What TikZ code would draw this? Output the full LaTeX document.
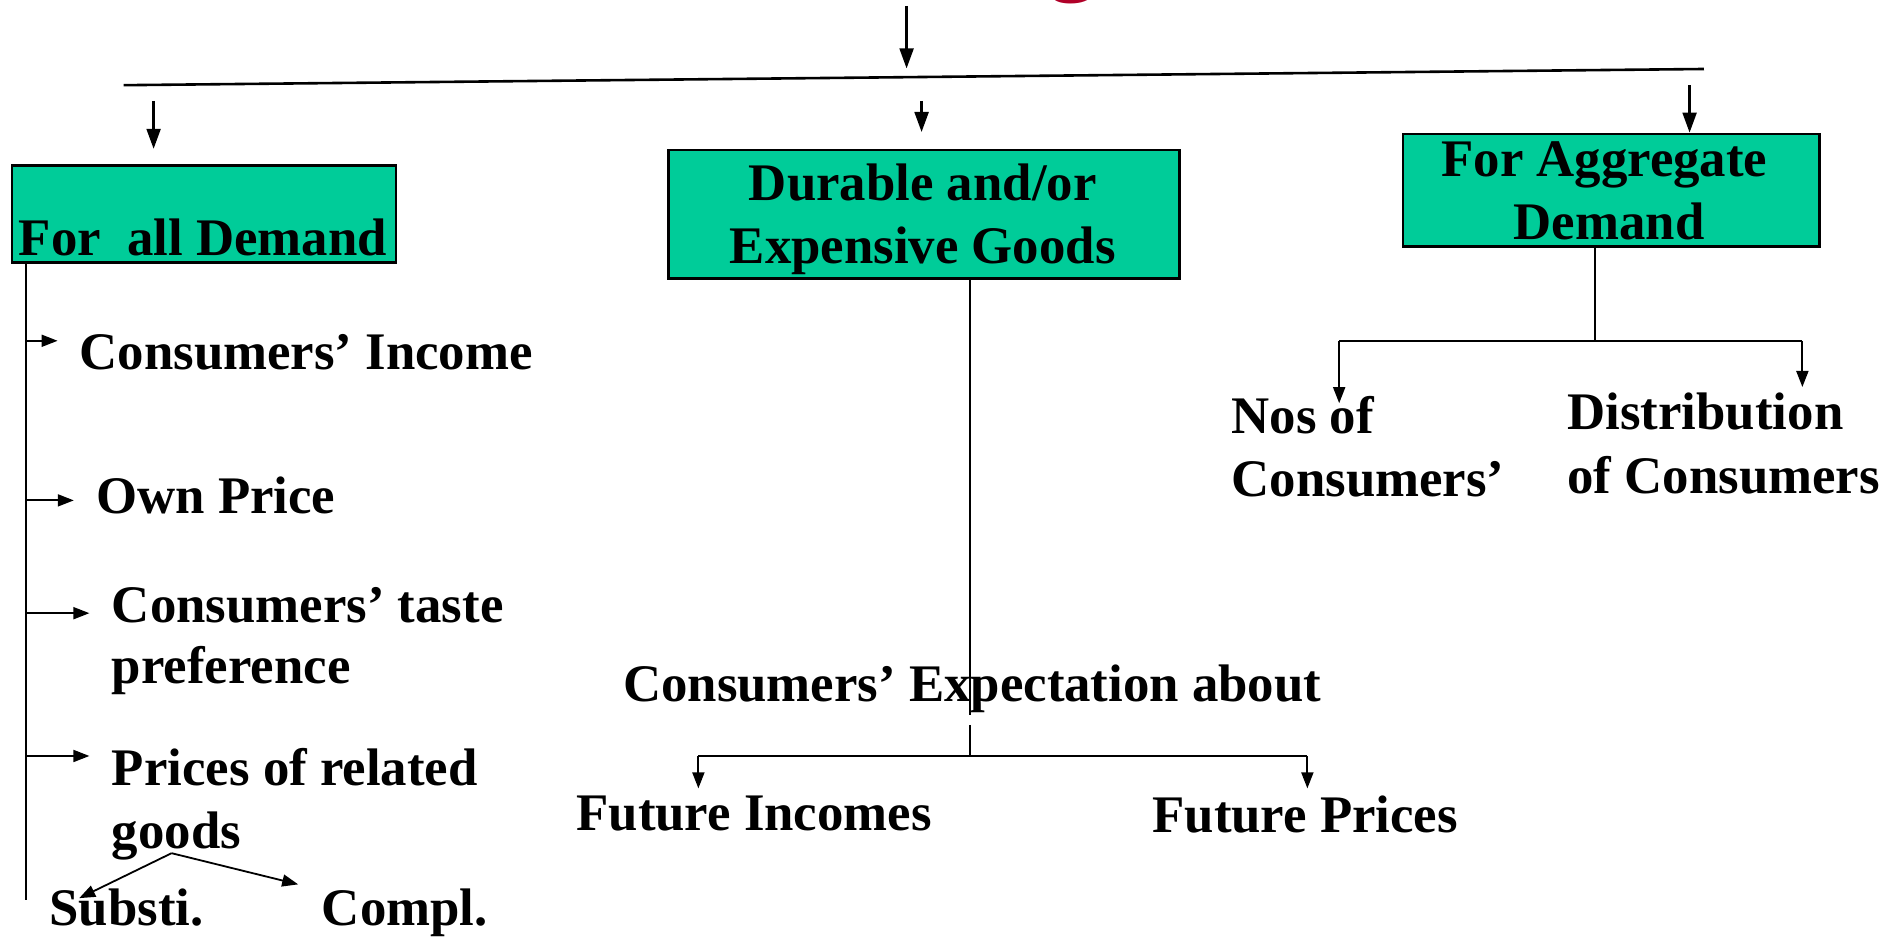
\documentclass[tikz,border=0pt]{standalone}
\usepackage{fontspec}
\setmainfont{Liberation Serif}
\usetikzlibrary{arrows.meta}
\definecolor{boxgreen}{RGB}{0,204,153}
\definecolor{titlered}{RGB}{176,0,40}
\begin{document}
\begin{tikzpicture}[x=0.6pt,y=-0.6pt,
  lbl/.style={font=\fontsize{26.4}{31.2}\selectfont\bfseries, inner sep=0pt, anchor=base west},
  ctr/.style={font=\fontsize{26.4}{31.2}\selectfont\bfseries, inner sep=0pt, anchor=base},
  greenbox/.style={draw=black, line width=1.3pt, fill=boxgreen, inner sep=0pt, anchor=north west},
  conn/.style={draw=black, line width=0.9pt},
  toparrow/.style={conn, line width=1.1pt, -{Triangle[length=10pt,width=7pt]}},
  sidearrow/.style={conn, -{Triangle[length=8pt,width=6pt]}},
]
\useasboundingbox (0,0) rectangle (1569.2,780.8);
\clip (0,0) rectangle (1569.2,780.8);
\fill[white] (0,0) rectangle (1569.2,780.8);

% title fragment
\node[font=\fontsize{52}{60}\selectfont, text=titlered, inner sep=0pt, anchor=base west] (title) at (872,-15.5) {g};

% boxes
\node[greenbox, minimum width=192pt, minimum height=48.3pt] (box1) at (9,137) {};
\node[greenbox, minimum width=255.6pt, minimum height=64.2pt] (box2) at (556,124) {};
\node[greenbox, minimum width=208.2pt, minimum height=56.4pt] (box3) at (1168,110.5) {};
\node[ctr] (b1t) at (169,213) {For\ \ all Demand};
\node[ctr] (b2a) at (769,167) {Durable and/or};
\node[ctr] (b2b) at (769,220) {Expensive Goods};
\node[ctr] (b3a) at (1337,147) {For Aggregate};
\node[ctr] (b3b) at (1341,199.5) {Demand};

% left column
\node[lbl] (inc) at (66,308) {Consumers’ Income};
\node[lbl] (own) at (80,428) {Own Price};
\node[lbl] (taste1) at (93,519) {Consumers’ taste};
\node[lbl] (taste2) at (93,570) {preference};
\node[lbl] (rel1) at (93,655) {Prices of related};
\node[lbl] (rel2) at (93,707) {goods};
\node[lbl] (subst) at (41,771) {Substi.};
\node[lbl] (compl) at (268,771) {Compl.};

% middle column
\node[lbl] (exp) at (519,585) {Consumers’ Expectation about};
\node[lbl] (finc) at (480,692) {Future Incomes};
\node[lbl] (fpri) at (960,694) {Future Prices};

% right column
\node[lbl] (nos1) at (1026,361) {Nos of};
\node[lbl] (nos2) at (1026,414) {Consumers’};
\node[lbl] (dist1) at (1306,358) {Distribution};
\node[lbl] (dist2) at (1306,411) {of Consumers};

% top connectors
\coordinate (tA) at (755.5,5);
\coordinate (tB) at (755.5,57);
\draw[toparrow] (tA) -- (tB);
\coordinate (hl) at (103,71);
\coordinate (hr) at (1420,57.5);
\draw[conn, line width=1.3pt] (hl) -- (hr);
\coordinate (a1s) at (128,84);
\coordinate (a1e) at (128,124);
\draw[toparrow] (a1s) -- (a1e);
\coordinate (a2s) at (768,84);
\coordinate (a2e) at (768,110);
\draw[toparrow] (a2s) -- (a2e);
\coordinate (a3s) at (1408,71);
\draw[toparrow] (a3s) -- (a3s |- box3.north);

% left connectors
\coordinate (lv) at (22,750);
\draw[conn, line width=1.1pt] (lv |- box1.south) -- (lv);
\coordinate (s1) at (22,284);   \coordinate (s1e) at (48,284);
\coordinate (s2) at (22,417);   \coordinate (s2e) at (61.5,417);
\coordinate (s3) at (22,511);   \coordinate (s3e) at (74.5,511);
\coordinate (s4) at (22,630);   \coordinate (s4e) at (74.5,630);
\draw[sidearrow] (s1) -- (s1e);
\draw[sidearrow] (s2) -- (s2e);
\draw[sidearrow] (s3) -- (s3e);
\draw[sidearrow] (s4) -- (s4e);
\coordinate (gap) at (143,711);
\coordinate (subtip) at (66,748.5);
\coordinate (cmptip) at (248.5,737);
\draw[sidearrow] (gap) -- (subtip);
\draw[sidearrow] (gap) -- (cmptip);

% middle connectors
\coordinate (mj) at (808.5,630);
\coordinate (mgapA) at (808.5,596);
\coordinate (mgapB) at (808.5,604);
\draw[conn, line width=0.7pt] (mj |- box2.south) -- (mgapA);
\draw[conn, line width=0.7pt] (mgapB) -- (mj);
\coordinate (ml) at (582,630);
\coordinate (mr) at (1089.5,630);
\draw[conn] (ml) -- (mr);
\coordinate (mlt) at (582,657);
\coordinate (mrt) at (1089.5,657);
\draw[sidearrow] (ml) -- (mlt);
\draw[sidearrow] (mr) -- (mrt);

% right connectors
\coordinate (rj) at (1329,284);
\draw[conn] (rj |- box3.south) -- (rj);
\coordinate (rl) at (1116,284);
\coordinate (rr) at (1502,284);
\draw[conn] (rl) -- (rr);
\coordinate (rlt) at (1116,336);
\coordinate (rrt) at (1502,322.5);
\draw[sidearrow] (rl) -- (rlt);
\draw[sidearrow] (rr) -- (rrt);
\end{tikzpicture}
\end{document}
